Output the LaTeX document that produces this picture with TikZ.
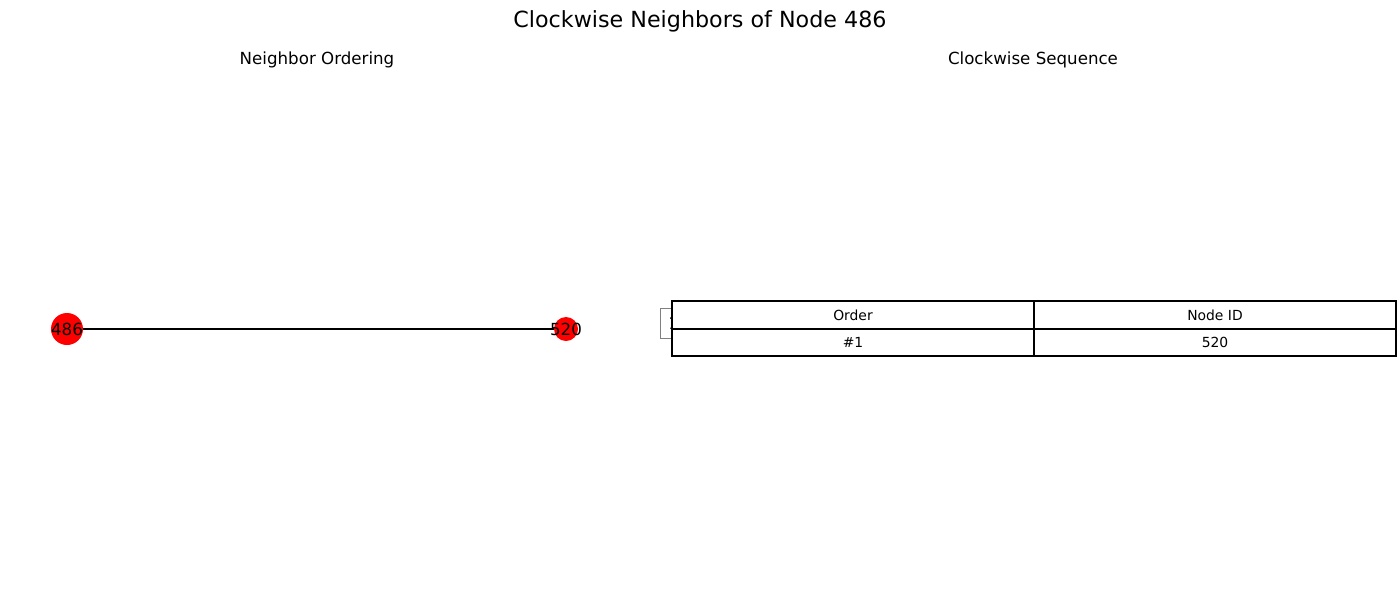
\documentclass[tikz,border=0pt]{standalone}
\usepackage{fontspec}
\setmainfont{DejaVu Sans}
\begin{document}
\begin{tikzpicture}[x=0.72pt,y=-0.72pt,
  vtx/.style={circle,fill=red,draw=none,inner sep=0pt},
  vlabel/.style={inner sep=0pt,font=\fontsize{12}{14}\selectfont},
  cell/.style={draw=black,line width=1pt,fill=white,inner sep=0pt,font=\fontsize{10}{12}\selectfont},
  ttl/.style={inner sep=0pt,font=\fontsize{12}{14}\selectfont},
  edge/.style={draw=black,line width=1pt}]
\useasboundingbox (0,0) rectangle (1400,600);
\node[inner sep=0pt,font=\fontsize{16}{19}\selectfont] (title) at (700,21) {Clockwise Neighbors of Node 486};
\node[ttl] (t1) at (317,59.5) {Neighbor Ordering};
\node[ttl] (t2) at (1033,59.5) {Clockwise Sequence};
% graph
\node[vtx,minimum size=23.04pt] (n486) at (67,329) {};
\node[vtx,minimum size=17.28pt] (n520) at (566,329) {};
\draw[edge] (n486) -- (n520);
\node[vlabel] (l486) at (n486.center) {486};
\node[vlabel] (l520) at (n520.center) {520};
% small label box behind table
\node[draw=gray,line width=0.72pt,fill=white,inner sep=0pt,minimum height=20.9pt,minimum width=19pt,anchor=west,font=\fontsize{12}{14}\selectfont] (badge) at (660,323.5) {1};
% table
\path[cell] (672,301) rectangle (1034,329) node[midway] (c11) {Order};
\path[cell] (1034,301) rectangle (1396,329) node[midway] (c12) {Node ID};
\path[cell] (672,329) rectangle (1034,356) node[midway] (c21) {\#1};
\path[cell] (1034,329) rectangle (1396,356) node[midway] (c22) {520};
\end{tikzpicture}
\end{document}
